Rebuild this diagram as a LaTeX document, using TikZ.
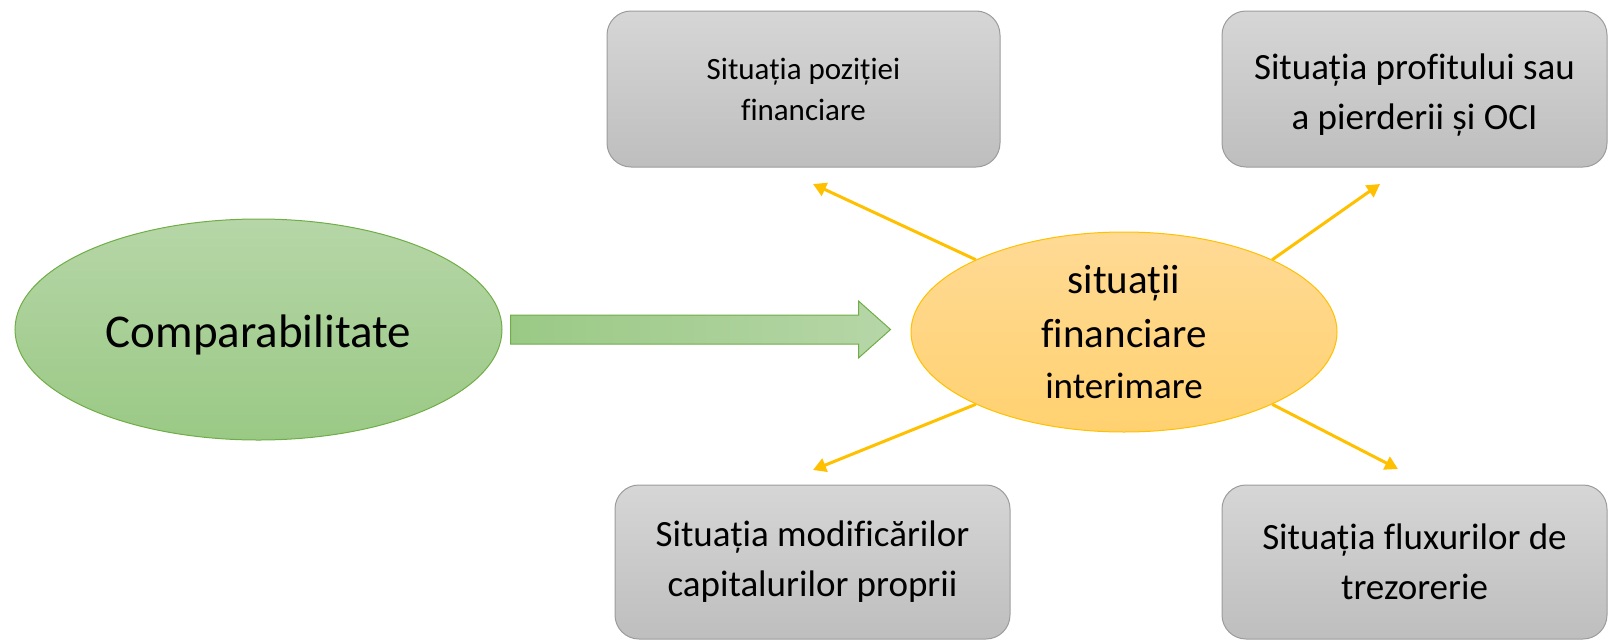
\documentclass[tikz,border=0pt]{standalone}
\usepackage{fontspec}
\setmainfont{Carlito}[Ligatures=NoCommon]
\usetikzlibrary{shapes.geometric,arrows.meta}

\definecolor{boxtop}{HTML}{D6D6D6}
\definecolor{boxbot}{HTML}{BEBEBE}
\definecolor{boxline}{HTML}{9C9C9C}
\definecolor{greentop}{HTML}{B6D6A7}
\definecolor{greenbot}{HTML}{9AC985}
\definecolor{greenline}{HTML}{70AD47}
\definecolor{orangetop}{HTML}{FFDA95}
\definecolor{orangebot}{HTML}{FFD170}
\definecolor{orangeline}{HTML}{FFC000}

\begin{document}
\begin{tikzpicture}[x=1pt,y=-1pt,
  sbox/.style={draw=boxline, line width=1pt, rounded corners=24pt,
    top color=boxtop, bottom color=boxbot, align=center, inner sep=0pt,
    font=\fontsize{37}{50}\selectfont},
  link/.style={draw=orangeline, line width=3pt,
    -{Triangle[length=13pt,width=14pt]}}]
\useasboundingbox (0,0) rectangle (1608,640);
%The two ellipses: where we start and what it points to
\node[ellipse, draw=greenline, line width=1pt, top color=greentop,
  bottom color=greenbot, minimum width=487pt, minimum height=221pt,
  inner sep=0pt, font=\fontsize{47}{56}\selectfont] (comp) at (258.5,329.5)
  {\raisebox{-5pt}[\height][\depth]{Comparabilitate}};
\node[ellipse, draw=orangeline, line width=1pt, top color=orangetop,
  bottom color=orangebot, minimum width=426pt, minimum height=200pt,
  inner sep=0pt, align=center, font=\fontsize{41}{54}\selectfont] (sit) at (1124,332)
  {situații\\ financiare\\[-3pt] {\fontsize{37}{48}\selectfont interimare}};
% the four statements round the interim report
\node[sbox, minimum width=393pt, minimum height=156pt,
  font=\fontsize{31}{41}\selectfont] (pos) at (803.5,89)
  {Situația poziției\\ financiare};
\node[sbox, minimum width=385pt, minimum height=156pt] (prof) at (1414.5,89)
  {\rule{0pt}{38pt}Situația profitului sau\\ a pierderii și OCI};
\node[sbox, minimum width=395pt, minimum height=154pt] (cap) at (812.5,562)
  {Situația modificărilor\\ capitalurilor proprii};
\node[sbox, minimum width=385pt, minimum height=154pt] (flux) at (1414.5,562)
  {Situația fluxurilor de\\ trezorerie};
%big green arrow between the ellipses
\path (comp.east) ++(8,0) coordinate (ba);
\draw[draw=greenline, line width=1pt, left color=greenbot, right color=greentop]
  (ba) ++(0,-14.5) -- ++(348,0) -- ++(0,-14) -- ++(32,28.5)
  -- ++(-32,28.5) -- ++(0,-14) -- ++(-348,0) -- cycle;
% yellow arrows, free ends just short of the boxes
\coordinate (tpos) at (813,184);
\coordinate (tprof) at (1380,184);
\coordinate (tcap) at (813,470);
\coordinate (tflux) at (1398,469);
\draw[link] (sit.154) -- (tpos);
\draw[link] (sit.26) -- (tprof);
\draw[link] (sit.206) -- (tcap);
\draw[link] (sit.334) -- (tflux);
\end{tikzpicture}
\end{document}
